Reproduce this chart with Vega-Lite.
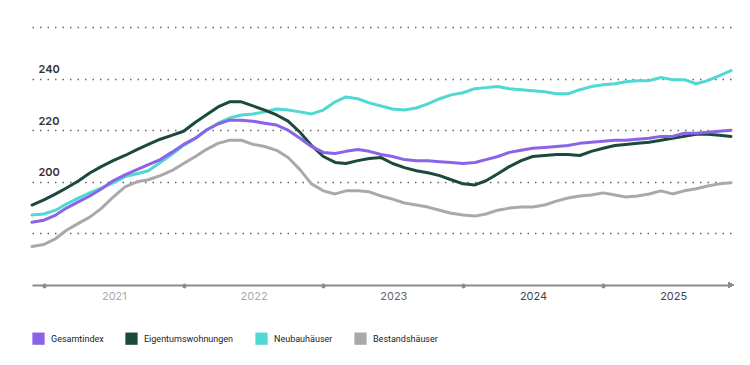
{
  "$schema": "https://vega.github.io/schema/vega-lite/v6.json",
  "autosize": {"type": "none"},
  "padding": {"left": 32, "top": 27, "right": 19, "bottom": 80},
  "width": 699,
  "height": 258,
  "background": "white",
  "config": {"view": {"stroke": null}},
  "data": {
    "format": {"parse": {"d": "utc:'%Y-%m'"}},
    "values": [
      {"d": "2020-12", "Gesamtindex": 184.3, "Eigentumswohnungen": 191.0, "Neubauhäuser": 187.1, "Bestandshäuser": 174.9},
      {"d": "2021-01", "Gesamtindex": 185.1, "Eigentumswohnungen": 193.0, "Neubauhäuser": 187.5, "Bestandshäuser": 175.7},
      {"d": "2021-02", "Gesamtindex": 187.1, "Eigentumswohnungen": 195.3, "Neubauhäuser": 189.0, "Bestandshäuser": 178.0},
      {"d": "2021-03", "Gesamtindex": 189.8, "Eigentumswohnungen": 197.6, "Neubauhäuser": 191.4, "Bestandshäuser": 181.2},
      {"d": "2021-04", "Gesamtindex": 192.2, "Eigentumswohnungen": 200.3, "Neubauhäuser": 193.7, "Bestandshäuser": 183.9},
      {"d": "2021-05", "Gesamtindex": 194.5, "Eigentumswohnungen": 203.4, "Neubauhäuser": 195.7, "Bestandshäuser": 186.3},
      {"d": "2021-06", "Gesamtindex": 197.3, "Eigentumswohnungen": 206.0, "Neubauhäuser": 197.6, "Bestandshäuser": 189.8},
      {"d": "2021-07", "Gesamtindex": 200.4, "Eigentumswohnungen": 208.2, "Neubauhäuser": 199.6, "Bestandshäuser": 194.1},
      {"d": "2021-08", "Gesamtindex": 202.7, "Eigentumswohnungen": 210.2, "Neubauhäuser": 202.0, "Bestandshäuser": 198.0},
      {"d": "2021-09", "Gesamtindex": 204.7, "Eigentumswohnungen": 212.5, "Neubauhäuser": 203.1, "Bestandshäuser": 200.0},
      {"d": "2021-10", "Gesamtindex": 206.7, "Eigentumswohnungen": 214.5, "Neubauhäuser": 204.3, "Bestandshäuser": 200.8},
      {"d": "2021-11", "Gesamtindex": 208.6, "Eigentumswohnungen": 216.5, "Neubauhäuser": 207.5, "Bestandshäuser": 202.4},
      {"d": "2021-12", "Gesamtindex": 211.4, "Eigentumswohnungen": 218.0, "Neubauhäuser": 210.6, "Bestandshäuser": 204.3},
      {"d": "2022-01", "Gesamtindex": 214.5, "Eigentumswohnungen": 219.6, "Neubauhäuser": 214.1, "Bestandshäuser": 207.1},
      {"d": "2022-02", "Gesamtindex": 216.9, "Eigentumswohnungen": 223.1, "Neubauhäuser": 216.9, "Bestandshäuser": 209.8},
      {"d": "2022-03", "Gesamtindex": 220.0, "Eigentumswohnungen": 225.9, "Neubauhäuser": 220.0, "Bestandshäuser": 212.5},
      {"d": "2022-04", "Gesamtindex": 222.4, "Eigentumswohnungen": 229.0, "Neubauhäuser": 222.7, "Bestandshäuser": 214.9},
      {"d": "2022-05", "Gesamtindex": 223.9, "Eigentumswohnungen": 231.0, "Neubauhäuser": 224.7, "Bestandshäuser": 216.1},
      {"d": "2022-06", "Gesamtindex": 223.9, "Eigentumswohnungen": 231.0, "Neubauhäuser": 225.9, "Bestandshäuser": 216.1},
      {"d": "2022-07", "Gesamtindex": 223.5, "Eigentumswohnungen": 229.4, "Neubauhäuser": 226.3, "Bestandshäuser": 214.5},
      {"d": "2022-08", "Gesamtindex": 222.7, "Eigentumswohnungen": 227.8, "Neubauhäuser": 227.1, "Bestandshäuser": 213.7},
      {"d": "2022-09", "Gesamtindex": 222.0, "Eigentumswohnungen": 225.9, "Neubauhäuser": 228.2, "Bestandshäuser": 212.2},
      {"d": "2022-10", "Gesamtindex": 220.0, "Eigentumswohnungen": 223.5, "Neubauhäuser": 227.8, "Bestandshäuser": 209.4},
      {"d": "2022-11", "Gesamtindex": 216.9, "Eigentumswohnungen": 219.2, "Neubauhäuser": 227.1, "Bestandshäuser": 204.7},
      {"d": "2022-12", "Gesamtindex": 213.7, "Eigentumswohnungen": 214.1, "Neubauhäuser": 226.3, "Bestandshäuser": 199.2},
      {"d": "2023-01", "Gesamtindex": 211.4, "Eigentumswohnungen": 209.8, "Neubauhäuser": 227.8, "Bestandshäuser": 196.5},
      {"d": "2023-02", "Gesamtindex": 211.0, "Eigentumswohnungen": 207.5, "Neubauhäuser": 231.0, "Bestandshäuser": 195.3},
      {"d": "2023-03", "Gesamtindex": 211.8, "Eigentumswohnungen": 207.1, "Neubauhäuser": 232.9, "Bestandshäuser": 196.5},
      {"d": "2023-04", "Gesamtindex": 212.5, "Eigentumswohnungen": 208.2, "Neubauhäuser": 232.2, "Bestandshäuser": 196.5},
      {"d": "2023-05", "Gesamtindex": 211.8, "Eigentumswohnungen": 209.0, "Neubauhäuser": 230.6, "Bestandshäuser": 196.1},
      {"d": "2023-06", "Gesamtindex": 210.6, "Eigentumswohnungen": 209.4, "Neubauhäuser": 229.4, "Bestandshäuser": 194.5},
      {"d": "2023-07", "Gesamtindex": 209.8, "Eigentumswohnungen": 207.1, "Neubauhäuser": 228.2, "Bestandshäuser": 193.3},
      {"d": "2023-08", "Gesamtindex": 208.6, "Eigentumswohnungen": 205.5, "Neubauhäuser": 227.8, "Bestandshäuser": 191.8},
      {"d": "2023-09", "Gesamtindex": 208.2, "Eigentumswohnungen": 204.3, "Neubauhäuser": 228.6, "Bestandshäuser": 191.0},
      {"d": "2023-10", "Gesamtindex": 208.2, "Eigentumswohnungen": 203.5, "Neubauhäuser": 230.2, "Bestandshäuser": 190.2},
      {"d": "2023-11", "Gesamtindex": 207.8, "Eigentumswohnungen": 202.4, "Neubauhäuser": 232.2, "Bestandshäuser": 189.0},
      {"d": "2023-12", "Gesamtindex": 207.5, "Eigentumswohnungen": 200.8, "Neubauhäuser": 233.7, "Bestandshäuser": 187.8},
      {"d": "2024-01", "Gesamtindex": 207.1, "Eigentumswohnungen": 199.2, "Neubauhäuser": 234.5, "Bestandshäuser": 187.1},
      {"d": "2024-02", "Gesamtindex": 207.5, "Eigentumswohnungen": 198.8, "Neubauhäuser": 236.1, "Bestandshäuser": 186.7},
      {"d": "2024-03", "Gesamtindex": 208.6, "Eigentumswohnungen": 200.4, "Neubauhäuser": 236.5, "Bestandshäuser": 187.5},
      {"d": "2024-04", "Gesamtindex": 209.8, "Eigentumswohnungen": 203.1, "Neubauhäuser": 236.9, "Bestandshäuser": 189.0},
      {"d": "2024-05", "Gesamtindex": 211.4, "Eigentumswohnungen": 205.9, "Neubauhäuser": 236.1, "Bestandshäuser": 189.8},
      {"d": "2024-06", "Gesamtindex": 212.2, "Eigentumswohnungen": 208.2, "Neubauhäuser": 235.7, "Bestandshäuser": 190.2},
      {"d": "2024-07", "Gesamtindex": 213.0, "Eigentumswohnungen": 209.8, "Neubauhäuser": 235.3, "Bestandshäuser": 190.2},
      {"d": "2024-08", "Gesamtindex": 213.3, "Eigentumswohnungen": 210.2, "Neubauhäuser": 234.9, "Bestandshäuser": 191.0},
      {"d": "2024-09", "Gesamtindex": 213.7, "Eigentumswohnungen": 210.6, "Neubauhäuser": 234.1, "Bestandshäuser": 192.5},
      {"d": "2024-10", "Gesamtindex": 214.1, "Eigentumswohnungen": 210.6, "Neubauhäuser": 234.1, "Bestandshäuser": 193.7},
      {"d": "2024-11", "Gesamtindex": 214.9, "Eigentumswohnungen": 210.2, "Neubauhäuser": 235.7, "Bestandshäuser": 194.5},
      {"d": "2024-12", "Gesamtindex": 215.3, "Eigentumswohnungen": 211.8, "Neubauhäuser": 236.9, "Bestandshäuser": 194.9},
      {"d": "2025-01", "Gesamtindex": 215.7, "Eigentumswohnungen": 213.0, "Neubauhäuser": 237.6, "Bestandshäuser": 195.7},
      {"d": "2025-02", "Gesamtindex": 216.1, "Eigentumswohnungen": 214.1, "Neubauhäuser": 238.0, "Bestandshäuser": 194.9},
      {"d": "2025-03", "Gesamtindex": 216.1, "Eigentumswohnungen": 214.5, "Neubauhäuser": 238.8, "Bestandshäuser": 194.1},
      {"d": "2025-04", "Gesamtindex": 216.5, "Eigentumswohnungen": 214.9, "Neubauhäuser": 239.2, "Bestandshäuser": 194.5},
      {"d": "2025-05", "Gesamtindex": 216.9, "Eigentumswohnungen": 215.3, "Neubauhäuser": 239.2, "Bestandshäuser": 195.3},
      {"d": "2025-06", "Gesamtindex": 217.6, "Eigentumswohnungen": 216.1, "Neubauhäuser": 240.4, "Bestandshäuser": 196.5},
      {"d": "2025-07", "Gesamtindex": 217.6, "Eigentumswohnungen": 216.9, "Neubauhäuser": 239.6, "Bestandshäuser": 195.3},
      {"d": "2025-08", "Gesamtindex": 218.8, "Eigentumswohnungen": 217.6, "Neubauhäuser": 239.6, "Bestandshäuser": 196.5},
      {"d": "2025-09", "Gesamtindex": 218.8, "Eigentumswohnungen": 218.4, "Neubauhäuser": 238.0, "Bestandshäuser": 197.3},
      {"d": "2025-10", "Gesamtindex": 219.2, "Eigentumswohnungen": 218.4, "Neubauhäuser": 239.2, "Bestandshäuser": 198.4},
      {"d": "2025-11", "Gesamtindex": 219.6, "Eigentumswohnungen": 218.0, "Neubauhäuser": 241.2, "Bestandshäuser": 199.2},
      {"d": "2025-12", "Gesamtindex": 220.0, "Eigentumswohnungen": 217.6, "Neubauhäuser": 243.1, "Bestandshäuser": 199.6}
    ]
  },
  "transform": [
    {"fold": ["Bestandshäuser", "Neubauhäuser", "Eigentumswohnungen", "Gesamtindex"], "as": ["Serie", "Wert"]}
  ],
  "layer": [
    {
      "mark": {"type": "line", "strokeWidth": 3, "strokeJoin": "round", "strokeCap": "round"},
      "encoding": {
        "x": {
          "field": "d",
          "type": "temporal",
          "scale": {"type": "utc", "domain": [{"year": 2020, "month": 12, "date": 1, "utc": true}, {"year": 2025, "month": 12, "date": 1, "utc": true}]},
          "axis": {
            "title": null,
            "grid": false,
            "values": [
              {"year": 2021, "month": 1, "date": 1, "utc": true},
              {"year": 2022, "month": 1, "date": 1, "utc": true},
              {"year": 2023, "month": 1, "date": 1, "utc": true},
              {"year": 2024, "month": 1, "date": 1, "utc": true},
              {"year": 2025, "month": 1, "date": 1, "utc": true}
            ],
            "format": "%Y",
            "labelOffset": 70,
            "labelFlush": false,
            "labelOverlap": false,
            "labelFont": "Inter",
            "labelFontSize": 11,
            "labelPadding": 4,
            "labelColor": {"expr": "utcyear(datum.value) <= 2022 ? '#aaaaaa' : (utcyear(datum.value) == 2023 ? '#666666' : '#444444')"},
            "domainColor": "#8c8c8c",
            "domainWidth": 2,
            "tickColor": "#8c8c8c",
            "tickSize": 1,
            "tickWidth": 4,
            "tickCap": "round"
          }
        },
        "y": {
          "field": "Wert",
          "type": "quantitative",
          "scale": {"domain": [160, 260], "nice": false, "zero": false},
          "axis": {
            "title": null,
            "values": [180, 200, 220, 240, 260],
            "labelExpr": "datum.value >= 200 && datum.value <= 240 ? datum.label : ''",
            "domain": false,
            "ticks": false,
            "grid": true,
            "gridColor": "#666666",
            "gridDash": [1.5, 6],
            "gridWidth": 1.5,
            "labelAlign": "left",
            "labelBaseline": "bottom",
            "labelPadding": -6,
            "labelOffset": -4,
            "labelFont": "Inter",
            "labelFontSize": 11,
            "labelFontWeight": 600,
            "labelColor": "#333333"
          }
        },
        "color": {
          "field": "Serie",
          "type": "nominal",
          "scale": {
            "domain": ["Gesamtindex", "Eigentumswohnungen", "Neubauhäuser", "Bestandshäuser"],
            "range": ["#8b63e8", "#1b4a3c", "#4fd8d4", "#a9a9ab"]
          },
          "legend": {
            "title": null,
            "orient": "none",
            "direction": "horizontal",
            "legendX": 0,
            "legendY": 305,
            "symbolType": "square",
            "symbolSize": 150,
            "symbolStrokeWidth": 0,
            "labelFont": "Roboto",
            "labelFontSize": 9,
            "labelColor": "#222222",
            "labelOffset": 6,
            "columnPadding": 21,
            "encode": {"symbols": {"update": {"fill": {"scale": "color", "field": "value"}, "fillOpacity": {"value": 1}}}}
          }
        }
      }
    },
    {
      "mark": {"type": "point", "shape": "triangle-right", "filled": true, "size": 30, "color": "#8c8c8c", "opacity": 1},
      "encoding": {
        "x": {"datum": {"year": 2025, "month": 12, "date": 1, "utc": true}, "type": "temporal"},
        "y": {"datum": 160, "type": "quantitative"}
      }
    }
  ]
}
